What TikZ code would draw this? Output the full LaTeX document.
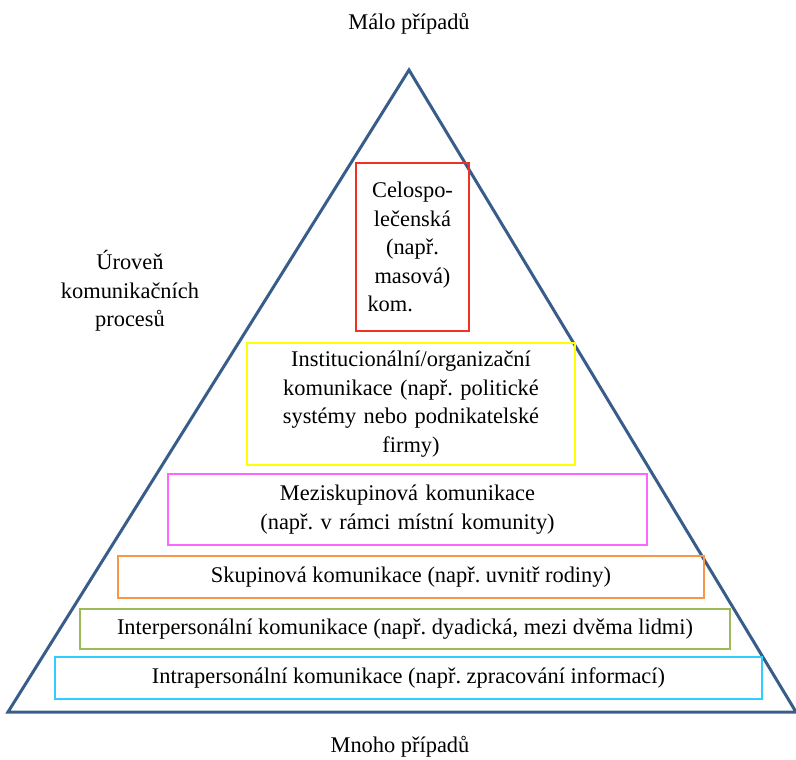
\documentclass[tikz,border=0pt]{standalone}
\usepackage{fontspec}
\setmainfont{Liberation Serif}
\usepackage{xcolor}
\usetikzlibrary{positioning}

\definecolor{pyrblue}{RGB}{56,93,138}
\definecolor{lvlred}{RGB}{238,50,36}
\definecolor{lvlyellow}{RGB}{255,255,0}
\definecolor{lvlmagenta}{RGB}{255,102,255}
\definecolor{lvlorange}{RGB}{247,150,70}
\definecolor{lvlgreen}{RGB}{155,187,89}
\definecolor{lvlcyan}{RGB}{51,204,255}

\begin{document}
\frenchspacing
\begin{tikzpicture}[
        x=1pt, y=1pt,
        font=\fontsize{22.4}{28.5}\selectfont,
        pyramid/.style={draw=pyrblue, line width=3pt},
        level/.style={rectangle, draw=#1, line width=1.5pt, align=center, inner sep=0pt},
        caption/.style={align=center, inner sep=0pt}
    ]
    \useasboundingbox (0,0) rectangle (796,-760);
    \coordinate (apex) at (409,-70);
    \coordinate (baseleft) at (8,-712);
    \coordinate (baseright) at (796,-712);
    \coordinate (basemid) at (400,-712);
    \draw[pyramid] (apex) -- (baseleft) -- (baseright) -- cycle;

    \node[level=lvlred, minimum width=113pt, minimum height=168pt, text width=90pt] (society) at (412.5,-247) {Celospo-\\lečenská\\(např.\\masová)\\\makebox[90pt][l]{kom.}};
    \node[level=lvlyellow, minimum width=328pt, minimum height=122pt, text width=310pt] (institution) at (411,-404) {Institucionální/organizační\\komunikace (např. politické\\systémy nebo podnikatelské\\firmy)};
    \node[level=lvlmagenta, minimum width=479pt, minimum height=71pt, text width=460pt] (intergroup) at (407.5,-509.5) {Meziskupinová komunikace\\(např. v rámci místní komunity)};
    \node[level=lvlorange, minimum width=586pt, minimum height=42pt] (group) at (411,-577) {Skupinová komunikace (např. uvnitř rodiny)};
    \node[level=lvlgreen, minimum width=650pt, minimum height=40pt] (interpersonal) at (405,-629) {Interpersonální komunikace (např. dyadická, mezi dvěma lidmi)};
    \node[level=lvlcyan, minimum width=707pt, minimum height=42pt] (intrapersonal) at (408.5,-678) {Intrapersonální komunikace (např. zpracování informací)};

    \node[caption, above=36pt of apex] (few) {Málo případů};
    \node[caption, below=24pt of basemid] (many) {Mnoho případů};
    \node[caption] (levels) at (130,-291) {Úroveň\\komunikačních\\procesů};
\end{tikzpicture}
\end{document}
